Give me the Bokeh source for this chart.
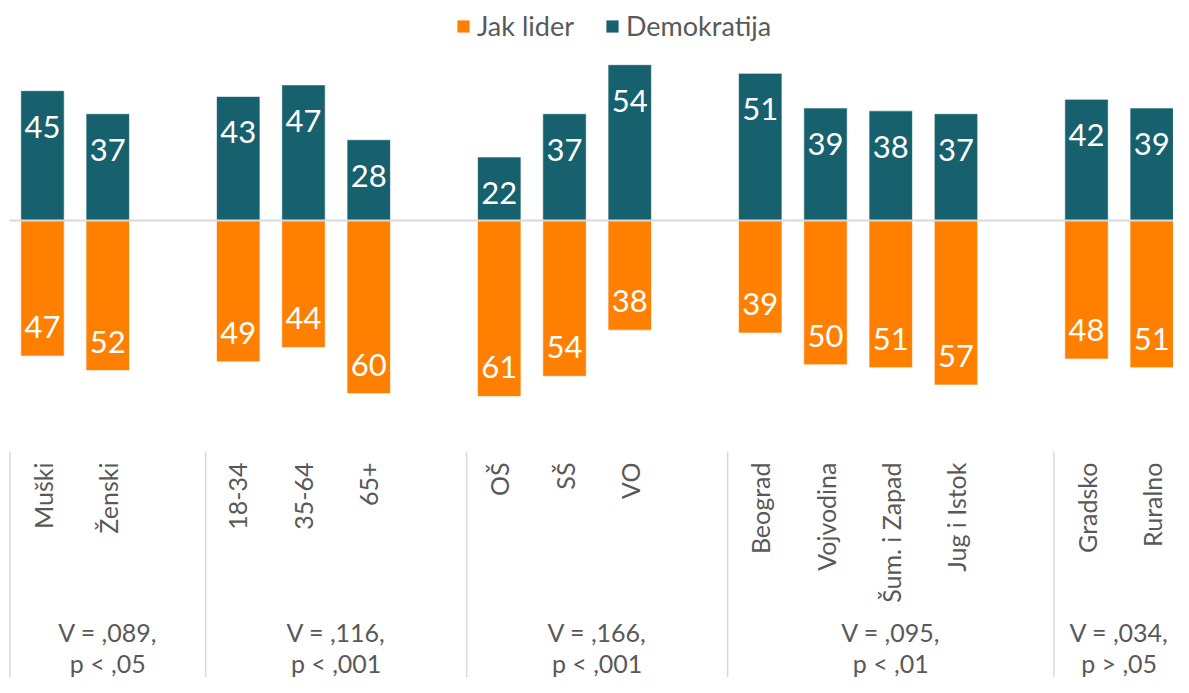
import math
from bokeh.plotting import figure
from bokeh.models import ColumnDataSource, Range1d, Legend, LegendItem
from bokeh.core.properties import value
from bokeh.embed import file_html
from bokeh.resources import INLINE

# ---- data ----
categories = ["Muški", "Ženski", "18-34", "35-64", "65+", "OŠ", "SŠ", "VO",
              "Beograd", "Vojvodina", "Šum. i Zapad", "Jug i Istok", "Gradsko", "Ruralno"]
group_sizes = [2, 3, 3, 4, 2]
demokratija = [45, 37, 43, 47, 28, 22, 37, 54, 51, 39, 38, 37, 42, 39]
jak_lider = [47, 52, 49, 44, 60, 61, 54, 38, 39, 50, 51, 57, 48, 51]
v_labels = ["V = ,089,", "V = ,116,", "V = ,166,", "V = ,095,", "V = ,034,"]
p_labels = ["p < ,05", "p < ,001", "p < ,001", "p < ,01", "p > ,05"]

# ---- style ----
TEAL = "#17606D"
ORANGE = "#FF7F00"
GRAY_TXT = "#595959"
LINE_GRAY = "#d9d9d9"
FONT = "Lato"

W, H = 1173, 677
PX = 2.885      # px per percentage point
Y0 = 220        # pixel row of zero line
PITCH = 65.25   # px per slot
X0 = 42         # pixel column of first slot


def vy(fy):
    return (Y0 - fy) / PX


# slot positions: one empty slot after each group
xs = []
seps = []
start = 0
for g in group_sizes:
    seps.append(start - 0.5)
    xs.extend(range(start, start + g))
    start += g + 1
bounds = seps + [xs[-1] + 0.5]
centers = [(bounds[i] + bounds[i + 1]) / 2 for i in range(len(group_sizes))]

src = ColumnDataSource(dict(
    x=xs,
    dem=demokratija,
    neg=[-v for v in jak_lider],
    dem_txt=[str(v) for v in demokratija],
    lid_txt=[str(v) for v in jak_lider],
    cat=categories,
))

p = figure(width=W, height=H,
           x_range=Range1d(-X0 / PITCH, (W - X0) / PITCH),
           y_range=Range1d(vy(H), vy(0)),
           output_backend="svg", toolbar_location=None,
           x_axis_location=None, y_axis_location=None,
           min_border=0, outline_line_color=None)
p.grid.visible = False
p.background_fill_color = "white"

BW = 0.665
dem_r = p.vbar(x="x", top="dem", bottom=0, width=BW, fill_color=TEAL,
               line_color="white", line_alpha=0.6, line_width=1, source=src)
lid_r = p.vbar(x="x", top=0, bottom="neg", width=BW, fill_color=ORANGE,
               line_color="white", line_alpha=0.6, line_width=1, source=src)

# zero line
p.segment(x0=[-0.5], y0=[0], x1=[p.x_range.end], y1=[0],
          line_color=LINE_GRAY, line_width=2)

# value labels
p.text(x="x", y="dem", text="dem_txt", source=src, y_offset=36,
       text_align="center", text_baseline="middle", text_color="white",
       text_font=value(FONT), text_font_size="31px")
p.text(x="x", y="neg", text="lid_txt", source=src, y_offset=-29,
       text_align="center", text_baseline="middle", text_color="white",
       text_font=value(FONT), text_font_size="31px")

# category labels (rotated)
p.text(x="x", y=vy(462), text="cat", source=src, angle=math.pi / 2,
       text_align="right", text_baseline="middle", text_color=GRAY_TXT,
       text_font=value(FONT), text_font_size="25px")

# separators in the label area
p.segment(x0=seps, y0=[vy(451)] * len(seps), x1=seps, y1=[vy(H + 5)] * len(seps),
          line_color=LINE_GRAY, line_width=1.5)

# statistics text
p.text(x=centers, y=[vy(631)] * len(centers), text=v_labels,
       text_align="center", text_baseline="middle", text_color=GRAY_TXT,
       text_font=value(FONT), text_font_size="25px")
p.text(x=centers, y=[vy(662)] * len(centers), text=p_labels,
       text_align="center", text_baseline="middle", text_color=GRAY_TXT,
       text_font=value(FONT), text_font_size="25px")

legend = Legend(items=[LegendItem(label="Jak lider", renderers=[lid_r]),
                       LegendItem(label="Demokratija", renderers=[dem_r])],
                orientation="horizontal", location=(455, H - 42),
                label_text_font=FONT, label_text_font_size="27px",
                label_text_color=GRAY_TXT, glyph_width=16, glyph_height=16,
                label_standoff=6, spacing=30, padding=0, margin=0,
                border_line_alpha=0, background_fill_alpha=0)
p.add_layout(legend, "center")

open("out.html", "w").write(file_html(p, INLINE))
